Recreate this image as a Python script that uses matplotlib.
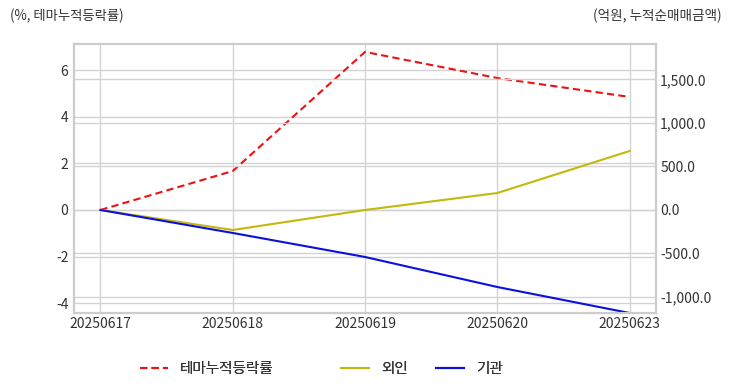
import matplotlib.pyplot as plt
import matplotlib.ticker as mticker
import numpy as np

plt.rcParams['font.family'] = ['Noto Sans CJK KR', 'DejaVu Sans']
plt.rcParams['axes.unicode_minus'] = False

dates = ['20250617', '20250618', '20250619', '20250620', '20250623']
theme = [0.0, 1.67, 6.78, 5.66, 4.85]      # %, 테마누적등락률
foreign = [0.0, -230.0, 0.0, 195.0, 678.0]  # 억원, 외인
inst = [0.0, -264.0, -540.0, -885.0, -1184.0]  # 억원, 기관

txt = '#333333'
grid_c = '#d3d3d3'

fig = plt.figure(figsize=(7.32, 3.92), dpi=100)
ax = fig.add_axes([74/732, 1-313/392, (656-74)/732, (313-44)/392])
ax2 = ax.twinx()

x = np.arange(len(dates))
l1, = ax.plot(x, theme, color='#ee1111', lw=1.5, ls=(0, (3.5, 2)), label='테마누적등락률')
l2, = ax2.plot(x, foreign, color='#c4b80c', lw=1.5, label='외인')
l3, = ax2.plot(x, inst, color='#0a10e0', lw=1.5, label='기관')

ax.set_xlim(-0.2, 4.2)
ax.set_ylim(-4.42, 7.12)
ax2.set_ylim(-1184, 1908)
ax.set_xticks(x)
ax.set_xticklabels(dates)
ax.set_yticks([-4, -2, 0, 2, 4, 6])
ax2.set_yticks([-1000, -500, 0, 500, 1000, 1500])
ax2.yaxis.set_major_formatter(mticker.FuncFormatter(lambda v, p: '{:,.1f}'.format(v)))

for a in (ax, ax2):
    a.grid(True, color=grid_c, lw=1)
    a.set_axisbelow(True)
    a.tick_params(length=0, labelsize=10, colors=txt)
    for s in a.spines.values():
        s.set_color('#cccccc')
        s.set_linewidth(1.5)
ax2.grid(False, axis='x')
ax.tick_params(axis='y', pad=4)
ax.tick_params(axis='x', pad=3)
ax2.tick_params(axis='y', pad=3)

fig.text(10/732, 1-16/392, '(%, 테마누적등락률)', fontsize=9.6, color=txt, va='center', ha='left')
fig.text(722/732, 1-16/392, '(억원, 누적순매매금액)', fontsize=9.8, color=txt, va='center', ha='right')

# legend items placed individually (uneven spacing in reference)
for h, xpos in [(l1, 140), (l2, 341), (l3, 436)]:
    lg = fig.legend(handles=[h], loc='center left', bbox_to_anchor=(xpos/732, 1-369/392),
                    frameon=False, fontsize=10.5, handlelength=1.9, handletextpad=0.85,
                    borderpad=0, borderaxespad=0)
    for t in lg.get_texts():
        t.set_color(txt)
    fig.add_artist(lg)

fig.savefig('out.png', dpi=100)
